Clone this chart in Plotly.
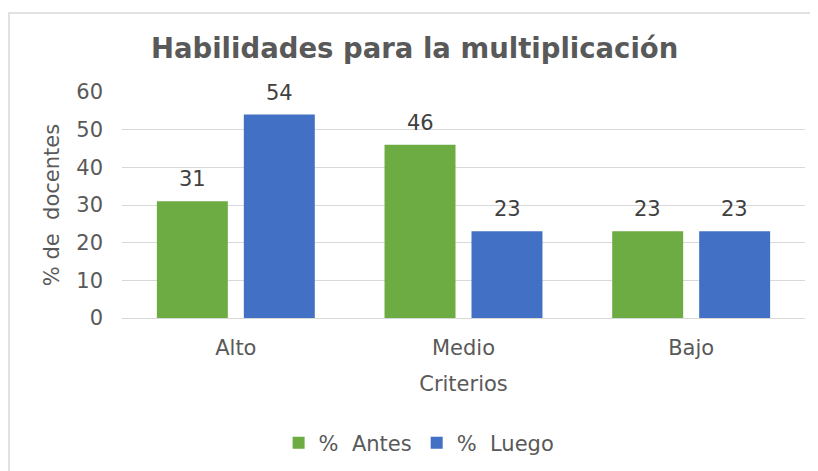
import plotly.graph_objects as go

categories = ["Alto", "Medio", "Bajo"]
antes = [31, 46, 23]
luego = [54, 23, 23]
y_ticks = [0, 10, 20, 30, 40, 50, 60]

FONT = "DejaVu Sans"
GREY = "#595959"
LABEL = "#404040"

fig = go.Figure()
fig.add_trace(go.Bar(name="%  Antes", x=categories, y=antes,
                     marker=dict(color="#6DAB43", line=dict(width=0))))
fig.add_trace(go.Bar(name="%  Luego", x=categories, y=luego,
                     marker=dict(color="#4270C4", line=dict(width=0))))

# value labels, placed a bit higher than plotly's "outside" text
for values, shift in ((antes, -43.5), (luego, 43.5)):
    for cat, v in zip(categories, values):
        fig.add_annotation(x=cat, y=v, text=str(v), showarrow=False,
                           xshift=shift, yshift=22, yanchor="middle",
                           font=dict(size=21, color=LABEL, family=FONT))

# light frame around the chart area
fig.add_shape(type="rect", xref="paper", yref="paper",
              x0=(1 - 114) / 683, x1=1.2, y0=-1.0, y1=(310 - 5) / 226,
              line=dict(color="#D9D9D9", width=1.5), layer="below")

fig.update_layout(
    width=810, height=463,
    margin=dict(l=114, r=13, t=84, b=153, autoexpand=False),
    paper_bgcolor="white", plot_bgcolor="white",
    font=dict(family=FONT, color=GREY, size=21),
    title=dict(
        text="<b>Habilidades para la multiplicación</b>",
        x=0.502, xanchor="center", y=1 - 40 / 463, yanchor="middle",
        font=dict(size=27.5, color=GREY, family=FONT),
    ),
    barmode="group", bargap=0.236, bargroupgap=0.184,
    legend=dict(
        orientation="h", x=0.435, xanchor="center", y=(310 - 435) / 226, yanchor="middle",
        font=dict(size=21, color=GREY, family=FONT), traceorder="normal",
    ),
    xaxis=dict(
        title=dict(text="Criterios", font=dict(size=21, color=GREY), standoff=17),
        tickfont=dict(size=21, color=GREY),
        showline=True, linecolor="#D9D9D9", linewidth=1,
        ticks="", showgrid=False, ticklabelstandoff=11, automargin=False,
    ),
    yaxis=dict(
        title=dict(text="% de  docentes", font=dict(size=21, color=GREY), standoff=10),
        tickvals=y_ticks, range=[0, 60],
        tickfont=dict(size=21, color=GREY),
        showgrid=True, gridcolor="#D9D9D9", gridwidth=1,
        zeroline=False, ticks="", showline=False, ticklabelstandoff=18, automargin=False,
    ),
)

fig.write_html("out.html")
